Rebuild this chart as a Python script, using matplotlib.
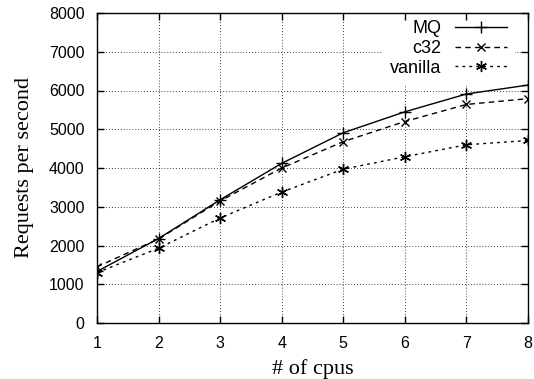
import matplotlib
matplotlib.use("Agg")
import matplotlib.pyplot as plt
import numpy as np

cpus = [1, 2, 3, 4, 5, 6, 7, 8]
mq = [1330, 2180, 3180, 4120, 4910, 5450, 5910, 6140]
c32 = [1450, 2170, 3150, 4000, 4680, 5200, 5640, 5790]
vanilla = [1300, 1930, 2710, 3380, 3970, 4290, 4600, 4710]

y_ticks = [0, 1000, 2000, 3000, 4000, 5000, 6000, 7000, 8000]

fig = plt.figure(figsize=(5.34, 3.79), dpi=100)
ax = fig.add_axes([97/534, 1 - 323/379, (528 - 97)/534, (323 - 13)/379])

# grid drawn as plain lines so the legend can sit on top of it
grid_style = dict(color='black', linestyle=(0, (1, 2.5)), lw=0.6, zorder=1)
ax.vlines(cpus, 0, 8000, **grid_style)
ax.hlines(y_ticks, 1, 8, **grid_style)

# series
ax.plot(cpus, mq, '-', color='black', lw=1, marker='+', ms=8, mew=1, label='MQ')
ax.plot(cpus, c32, '--', color='black', lw=1, marker='x', ms=6, mew=1,
        dashes=(4, 3), label='c32')
ax.plot(cpus, vanilla, ':', color='black', lw=1, marker=(6, 2, 0), ms=8, mew=1,
        dashes=(2, 3), label='vanilla')

ax.set_xlim(1, 8)
ax.set_ylim(0, 8000)
ax.set_xticks(cpus)
ax.set_yticks(y_ticks)
ax.tick_params(direction='in', top=True, right=True, length=5, width=1,
               labelsize=11.5, pad=9)
for lab in ax.get_xticklabels() + ax.get_yticklabels():
    lab.set_family('Liberation Sans')
for s in ax.spines.values():
    s.set_linewidth(1)

ax.set_xlabel("# of cpus", family='Liberation Serif', fontsize=16)
ax.set_ylabel("Requests per second", family='Liberation Serif', fontsize=16)
ax.xaxis.set_label_coords(0.5, -0.116)
ax.yaxis.set_label_coords(-0.146, 0.5)

leg = ax.legend(loc='upper right', bbox_to_anchor=(515/534, (379 - 12)/379),
                bbox_transform=fig.transFigure, borderaxespad=0,
                markerfirst=False, frameon=True, fancybox=False,
                handlelength=2.9, borderpad=0.45, labelspacing=0.15,
                handletextpad=0.72,
                prop={'family': 'Liberation Sans', 'size': 13})
leg.get_frame().set_edgecolor('none')
leg.get_frame().set_facecolor('white')
leg.get_frame().set_alpha(1)
leg.set_zorder(1.2)

# right-align labels against the samples, gnuplot style
for t in leg.get_texts():
    t.set_ha('right')

fig.savefig("out.png", dpi=100)
